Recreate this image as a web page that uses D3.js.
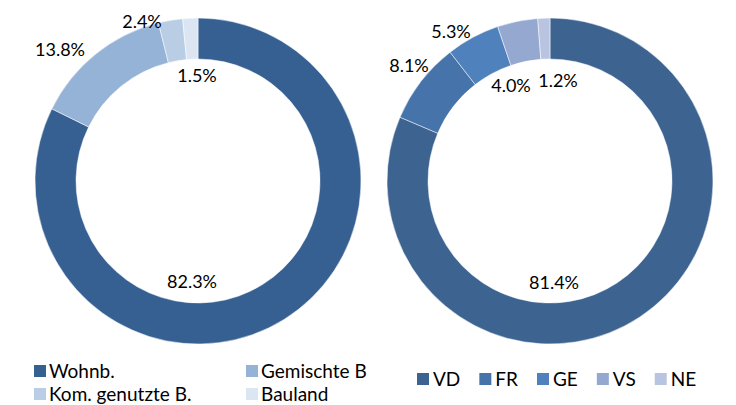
<!DOCTYPE html>
<html>
<head>
<meta charset="UTF-8">
<script src="https://d3js.org/d3.v7.min.js"></script>
<style>
  body { margin: 0; background: #fff; font-family: Lato, "Open Sans", sans-serif; }
  svg { display: block; }
  .lbl { font-size: 18px; fill: #000; }
  .leg { font-size: 19px; fill: #000; }
</style>
</head>
<body>
<script>
// left chart: building zones
const zoneNames = ['Wohnb.', 'Gemischte B', 'Kom. genutzte B.', 'Bauland'];
const zoneValues = [82.3, 13.8, 2.4, 1.5];
const zoneColors = ['#376092', '#95B3D7', '#B9CDE5', '#DCE6F2'];

// right chart: cantons
const cantonNames = ['VD', 'FR', 'GE', 'VS', 'NE'];
const cantonValues = [81.4, 8.1, 5.3, 4.0, 1.2];
const cantonColors = ['#3D6391', '#4674AA', '#4F81BD', '#95A8D0', '#B9C5E0'];

// where Excel put the data labels (offset from donut centre)
const zoneLabelPos = [[-6, 101], [-138, -131], [-56, -159], [-1, -105]];
const cantonLabelPos = [[4, 102], [-141, -115], [-99, -149], [-39, -95], [8, -100]];

const width = 736, height = 405;
const svg = d3.select('body').append('svg')
  .attr('width', width)
  .attr('height', height);

const pie = d3.pie().sort(null).value(d => d);
const arc = d3.arc().innerRadius(122).outerRadius(163);

function donut(cx, cy, values, colors, labelPos) {
  const g = svg.append('g').attr('transform', 'translate(' + cx + ',' + cy + ')');
  g.selectAll('path')
    .data(pie(values))
    .enter().append('path')
    .attr('d', arc)
    .attr('fill', (d, i) => colors[i])
    .attr('stroke', '#fff')
    .attr('stroke-width', 0.5);
  g.selectAll('text')
    .data(values)
    .enter().append('text')
    .attr('class', 'lbl')
    .attr('x', (d, i) => labelPos[i][0])
    .attr('y', (d, i) => labelPos[i][1])
    .attr('dy', '0.35em')
    .attr('text-anchor', 'middle')
    .text(d => d.toFixed(1) + '%');
}

donut(198, 181, zoneValues, zoneColors, zoneLabelPos);
donut(550, 181, cantonValues, cantonColors, cantonLabelPos);

// left legend, 2 x 2 grid
const legL = svg.append('g');
const colX = d3.scaleOrdinal().domain([0, 1]).range([34, 246]);
const rowY = d3.scaleOrdinal().domain([0, 1]).range([371, 394]);
const itemsL = legL.selectAll('g')
  .data(zoneNames)
  .enter().append('g')
  .attr('transform', (d, i) => 'translate(' + colX(i % 2) + ',' + rowY(Math.floor(i / 2)) + ')');
itemsL.append('rect')
  .attr('x', 0).attr('y', -6)
  .attr('width', 12).attr('height', 12)
  .attr('fill', (d, i) => zoneColors[i]);
itemsL.append('text')
  .attr('class', 'leg')
  .attr('x', 15)
  .attr('dy', '0.35em')
  .text(d => d);

// right legend, single row flowing by text width
const legR = svg.append('g').attr('transform', 'translate(417,379)');
let xPos = 0;
cantonNames.forEach((name, i) => {
  const item = legR.append('g').attr('transform', 'translate(' + xPos + ',0)');
  item.append('rect')
    .attr('x', 0).attr('y', -6)
    .attr('width', 12).attr('height', 12)
    .attr('fill', cantonColors[i]);
  const t = item.append('text')
    .attr('class', 'leg')
    .attr('x', 16)
    .attr('dy', '0.35em')
    .text(name);
  xPos += 16 + t.node().getComputedTextLength() + 19;
});
</script>
</body>
</html>
